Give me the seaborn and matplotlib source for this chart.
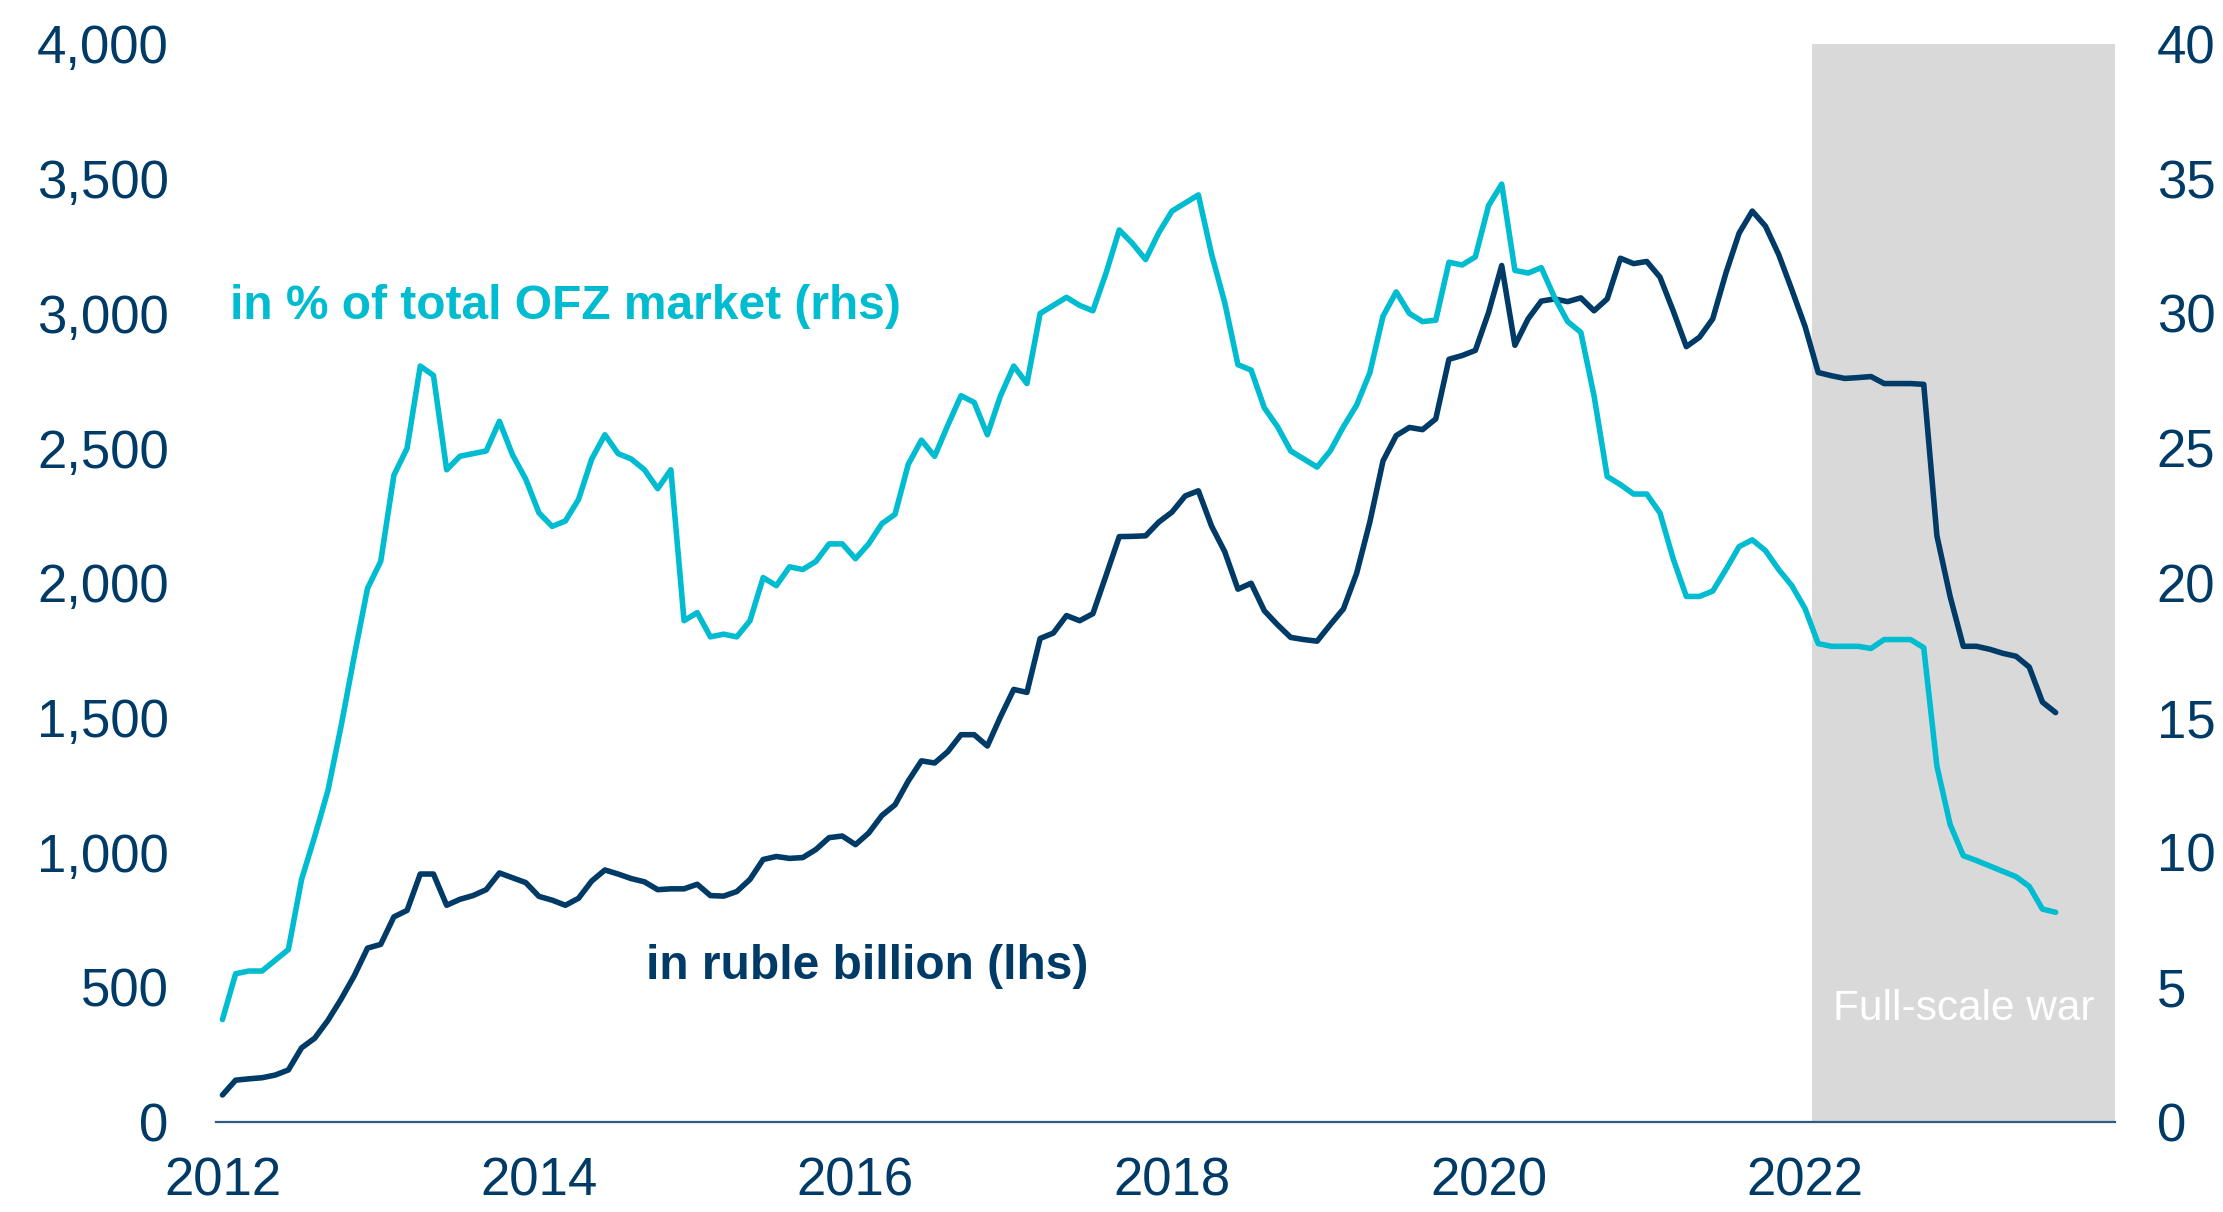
import matplotlib
matplotlib.use("Agg")
import matplotlib.pyplot as plt
import seaborn as sns
import numpy as np
import pandas as pd
from matplotlib.ticker import FuncFormatter

# Foreign holdings of OFZ, monthly from Jan 2012 to Aug 2023
ruble_bn = [
    100, 155, 160, 164, 174, 193, 275, 311, 377, 456, 543, 645,
    659, 761, 785, 920, 920, 804, 826, 840, 862, 924, 906, 888,
    837, 823, 804, 830, 894, 935, 920, 903, 891, 862, 865, 865,
    882, 840, 838, 855, 900, 974, 985, 978, 981, 1011, 1055, 1061,
    1029, 1072, 1137, 1177, 1265, 1340, 1332, 1374, 1437, 1437, 1395, 1504,
    1605, 1594, 1794, 1814, 1879, 1860, 1886, 2028, 2172, 2173, 2175, 2226,
    2263, 2323, 2342, 2211, 2116, 1977, 1999, 1897, 1845, 1798, 1790, 1784,
    1845, 1904, 2036, 2226, 2453, 2547, 2577, 2569, 2609, 2830, 2844, 2863,
    3003, 3178, 2882, 2980, 3046, 3054, 3044, 3058, 3010, 3054, 3205, 3185,
    3193, 3135, 3010, 2877, 2912, 2980, 3150, 3298, 3380, 3324, 3219, 3088,
    2952, 2781, 2769, 2759, 2762, 2766, 2740, 2740, 2740, 2737, 2175, 1950,
    1765, 1765, 1754, 1739, 1728, 1688, 1558, 1519,
]
share_pct = [
    3.8, 5.5, 5.6, 5.6, 6.0, 6.4, 9.0, 10.6, 12.3, 14.7, 17.3, 19.8,
    20.8, 24.0, 25.0, 28.05, 27.7, 24.2, 24.7, 24.8, 24.9, 26.0, 24.75, 23.85,
    22.6, 22.1, 22.3, 23.1, 24.6, 25.5, 24.8, 24.6, 24.2, 23.5, 24.2, 18.6,
    18.9, 18.0, 18.1, 18.0, 18.6, 20.2, 19.9, 20.6, 20.5, 20.8, 21.45, 21.45,
    20.9, 21.45, 22.2, 22.55, 24.4, 25.3, 24.7, 25.85, 26.95, 26.7, 25.5, 26.95,
    28.05, 27.4, 30.0, 30.3, 30.6, 30.3, 30.1, 31.5, 33.1, 32.6, 32.0, 33.0,
    33.8, 34.1, 34.4, 32.2, 30.4, 28.1, 27.9, 26.5, 25.8, 24.9, 24.6, 24.3,
    24.9, 25.8, 26.6, 27.8, 29.9, 30.8, 30.0, 29.7, 29.75, 31.9, 31.8, 32.1,
    34.0, 34.8, 31.6, 31.5, 31.7, 30.6, 29.7, 29.3, 26.95, 23.95, 23.65, 23.3,
    23.3, 22.6, 20.9, 19.5, 19.5, 19.7, 20.5, 21.35, 21.6, 21.2, 20.5, 19.9,
    19.05, 17.75, 17.65, 17.65, 17.65, 17.57, 17.9, 17.9, 17.9, 17.6, 13.2, 11.04,
    9.88, 9.7, 9.5, 9.3, 9.1, 8.74, 7.9, 7.78,
]
year_labels = ['2012', '2014', '2016', '2018', '2020', '2022']
war_months = ('2022-02', '2023-12')
label_rhs = 'in % of total OFZ market (rhs)'
label_lhs = 'in ruble billion (lhs)'
label_war = 'Full-scale war'

NAVY = '#003a66'
CYAN = '#00bcd0'
SHADE = '#d9d9d9'

sns.set_style("white")
plt.rcParams['font.family'] = ['Liberation Sans', 'DejaVu Sans']

df = pd.DataFrame({'month': np.arange(len(ruble_bn)),
                   'ruble_bn': ruble_bn, 'share_pct': share_pct})
base = pd.Period('2012-01', freq='M')
war_start = (pd.Period(war_months[0], freq='M') - base).n
war_end = (pd.Period(war_months[1], freq='M') - base).n

fig = plt.figure(figsize=(22.23, 12.12), dpi=100)
ax = fig.add_axes([0.0971, 0.0743, 0.8543, 0.8894])
ax2 = ax.twinx()

# War period shading
ax.axvspan(war_start - 0.5, war_end + 0.5, color=SHADE, lw=0, zorder=0)

sns.lineplot(data=df, x='month', y='ruble_bn', ax=ax, color=NAVY, lw=4.0)
sns.lineplot(data=df, x='month', y='share_pct', ax=ax2, color=CYAN, lw=4.0)

ax.set_xlim(-0.5, war_end + 0.5)
ax.set_ylim(0, 4000)
ax2.set_ylim(0, 40)
ax.set_xticks([i * 24 for i in range(len(year_labels))])
ax.set_xticklabels(year_labels)
ax.set_yticks(np.arange(0, 4001, 500))
ax2.set_yticks(np.arange(0, 41, 5))
ax.yaxis.set_major_formatter(FuncFormatter(lambda v, p: f'{int(v):,}'))

for a in (ax, ax2):
    a.set_xlabel('')
    a.set_ylabel('')
    for s in a.spines.values():
        s.set_visible(False)
    a.tick_params(length=0, labelsize=38, labelcolor=NAVY)
ax.spines['bottom'].set_visible(True)
ax.spines['bottom'].set_color('#2f5b85')
ax.spines['bottom'].set_linewidth(1.6)
ax.tick_params(axis='y', pad=34)
ax.tick_params(axis='x', pad=25)
ax2.tick_params(axis='y', pad=30)
ax.set_facecolor('none')

ax2.text(0.6, 30.25, label_rhs, color=CYAN, fontsize=34.5, fontweight='bold',
         ha='left', va='center')
ax.text(32.1, 575, label_lhs, color=NAVY, fontsize=34.5, fontweight='bold',
        ha='left', va='center')
ax.text(132.0, 420, label_war, color='white', fontsize=30.5,
        ha='center', va='center')

fig.savefig('out.png', dpi=100)
